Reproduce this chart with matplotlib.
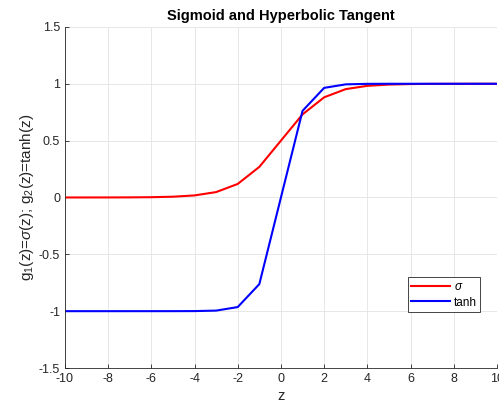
import numpy as np
import matplotlib
matplotlib.use('Agg')
import matplotlib.pyplot as plt
from matplotlib.ticker import FuncFormatter

matplotlib.rcParams['font.family'] = ['Liberation Sans', 'DejaVu Sans']
matplotlib.rcParams['mathtext.fontset'] = 'custom'
matplotlib.rcParams['mathtext.rm'] = 'Liberation Sans'
matplotlib.rcParams['mathtext.it'] = 'Liberation Sans:italic'

z = [-10, -9, -8, -7, -6, -5, -4, -3, -2, -1, 0, 1, 2, 3, 4, 5, 6, 7, 8, 9, 10]
sigma = [0.0000454, 0.000123, 0.000335, 0.000911, 0.00247, 0.00669, 0.0180,
         0.0474, 0.119, 0.269, 0.5, 0.731, 0.881, 0.953, 0.982, 0.993,
         0.9975, 0.9991, 0.9997, 0.9999, 1.0]
tanh = [-1.0, -1.0, -1.0, -1.0, -0.99999, -0.9999, -0.9993, -0.995, -0.964,
        -0.762, 0.0, 0.762, 0.964, 0.995, 0.9993, 0.9999, 0.99999, 1.0, 1.0,
        1.0, 1.0]

fig = plt.figure(figsize=(4.99, 4.08), dpi=100)
ax = fig.add_axes([0.130, 0.098, 0.866, 0.836])

ax.plot(z, sigma, color='#ff0000', lw=1.5, label=r'$\sigma$')
ax.plot(z, tanh, color='#0000ff', lw=1.5, label='tanh')

ax.set_xlim(-10, 10)
ax.set_ylim(-1.5, 1.5)
ax.set_xticks(np.arange(-10, 11, 2))
ax.set_yticks(np.arange(-1.5, 1.51, 0.5))
fmt = FuncFormatter(lambda v, p: '%g' % v)
ax.xaxis.set_major_formatter(fmt)
ax.yaxis.set_major_formatter(fmt)
ax.grid(True, color='#e3e3e3', lw=0.6)
ax.set_axisbelow(True)
for s in ['top', 'right']:
    ax.spines[s].set_visible(False)
for s in ['left', 'bottom']:
    ax.spines[s].set_color('#262626')
    ax.spines[s].set_linewidth(0.6)
ax.tick_params(direction='in', length=3, width=0.6, colors='#262626',
               labelsize=9, labelcolor='#262626')

ax.set_xlabel('z', fontsize=10.5, color='#262626', labelpad=3)
ax.set_ylabel(r'g$_{\mathregular{1}}$(z)=$\sigma$(z); g$_{\mathregular{2}}$(z)=tanh(z)',
              fontsize=11, color='#262626', labelpad=2)
ax.set_title('Sigmoid and Hyperbolic Tangent', fontsize=10.5,
             fontweight='bold', pad=5)

leg = ax.legend(loc='lower right', bbox_to_anchor=(0.961, 0.164), fontsize=8.5,
                fancybox=False, framealpha=1, edgecolor='#262626',
                handlelength=3.3, borderpad=0.3, labelspacing=0.3,
                handletextpad=0.3, borderaxespad=0)
leg.get_frame().set_linewidth(0.6)

fig.savefig('out.png', dpi=100)
